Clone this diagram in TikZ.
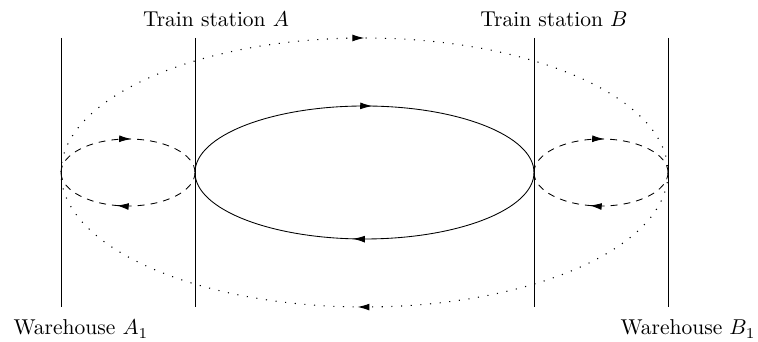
\documentclass[tikz,border=0pt]{standalone}
\usetikzlibrary{arrows.meta,decorations.markings}
\begin{document}
\begin{tikzpicture}[x=0.465pt,y=-0.465pt,
  midarrow/.style={postaction={decorate},decoration={markings,mark=at position #1 with {\arrow{Latex[length=5.6pt,width=3.2pt]}}}},
  vline/.style={line width=0.4pt},
  dotline/.style={dash pattern=on 0.5pt off 4pt, line width=0.5pt},
  dashline/.style={dash pattern=on 3.2pt off 2.8pt, line width=0.4pt},
  lab/.style={inner sep=0pt,anchor=base}]
\useasboundingbox (0,0) rectangle (758,342);
% vertical lines
\coordinate (wA) at (61,38); \coordinate (wAb) at (61,307);
\coordinate (tA) at (195,38); \coordinate (tAb) at (195,307);
\coordinate (tB) at (534,38); \coordinate (tBb) at (534,307);
\coordinate (wB) at (668,38); \coordinate (wBb) at (668,307);
\draw[vline] (wA) -- (wAb);
\draw[vline] (tA) -- (tAb);
\draw[vline] (tB) -- (tBb);
\draw[vline] (wB) -- (wBb);
% labels
\node[lab] (lTA) at (216,27) {Train station $A$};
\node[lab] (lTB) at (554,27) {Train station $B$};
\node[lab] (lWA) at (81,335) {Warehouse $A_1$};
\node[lab] (lWB) at (688,335) {Warehouse $B_1$};
% solid ellipse
\draw[vline,midarrow=0.52] (195,172.5) arc[start angle=180,end angle=360,x radius=169.5,y radius=66.5];
\draw[vline,midarrow=0.53] (534,172.5) arc[start angle=0,end angle=180,x radius=169.5,y radius=66.5];
% dashed left
\draw[dashline,midarrow=0.52] (61,172.5) arc[start angle=180,end angle=360,x radius=67,y radius=33.5];
\draw[dashline,midarrow=0.57] (195,172.5) arc[start angle=0,end angle=180,x radius=67,y radius=33.5];
% dashed right
\draw[dashline,midarrow=0.52] (534,172.5) arc[start angle=180,end angle=360,x radius=67,y radius=33.5];
\draw[dashline,midarrow=0.57] (668,172.5) arc[start angle=0,end angle=180,x radius=67,y radius=33.5];
% dotted big
\draw[dotline,midarrow=0.5] (61,172.5) arc[start angle=180,end angle=360,x radius=303.5,y radius=134.5];
\draw[dotline,midarrow=0.51] (668,172.5) arc[start angle=0,end angle=180,x radius=303.5,y radius=134.5];
\end{tikzpicture}
\end{document}
